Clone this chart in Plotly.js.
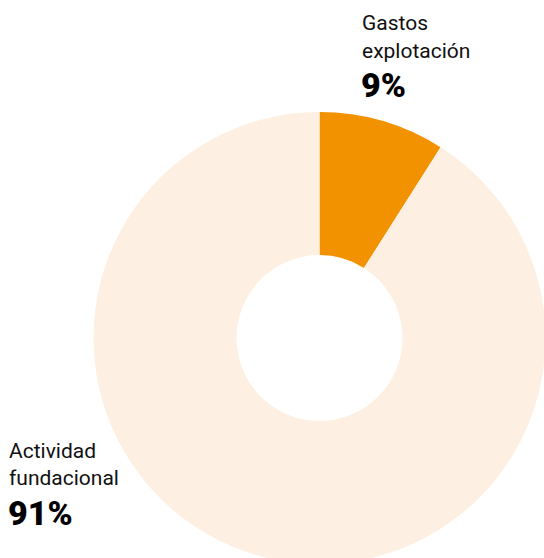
<!DOCTYPE html>
<html>
<head>
<meta charset="utf-8">
<script src="https://cdn.plot.ly/plotly-3.0.1.min.js"></script>
<style>
html,body{margin:0;padding:0;overflow:hidden;background:#fff;width:544px;height:558px;}
#chart{width:550px;height:570px;}
</style>
</head>
<body>
<div id="chart"></div>
<script>
var categories = ["Gastos explotación", "Actividad fundacional"];
var values = [9, 91];
var colors = ["#F39200", "#FDF0E2"];
var labelLines = [["Gastos", "explotación"], ["Actividad", "fundacional"]];
var pctLabels = ["9%", "91%"];

var W = 550, H = 570;
function px(x){ return x / W; }
function py(y){ return (H - y) / H; }

var cx = 319.5, cy = 338, R = 226;

var trace = {
  type: "pie",
  labels: categories,
  values: values,
  hole: 0.367,
  sort: false,
  direction: "clockwise",
  rotation: 0,
  textinfo: "none",
  hoverinfo: "label+percent",
  marker: {colors: colors, line: {width: 0}},
  domain: {x: [px(cx - R), px(cx + R)], y: [py(cy + R), py(cy - R)]},
  showlegend: false
};

var txtFont = {family: "Roboto, 'Noto Sans', sans-serif", size: 21, color: "#111"};
var pctFont = {family: "Roboto, 'Noto Sans', sans-serif", size: 34, color: "#000", weight: 900};

function ann(text, x, y, font){
  return {text: text, x: px(x), y: py(y), xref: "paper", yref: "paper",
          xanchor: "left", yanchor: "middle", showarrow: false, font: font, align: "left"};
}

var annotations = [
  ann(labelLines[0][0], 360, 23, txtFont),
  ann(labelLines[0][1], 360, 50.5, txtFont),
  ann(pctLabels[0], 359, 85, pctFont),
  ann(labelLines[1][0], 7, 450.5, txtFont),
  ann(labelLines[1][1], 7, 477.5, txtFont),
  ann(pctLabels[1], 6, 513, pctFont)
];

var layout = {
  width: W, height: H,
  margin: {l: 0, r: 0, t: 0, b: 0},
  paper_bgcolor: "#fff",
  plot_bgcolor: "#fff",
  annotations: annotations,
  showlegend: false
};

Plotly.newPlot("chart", [trace], layout, {displayModeBar: false, staticPlot: true});
</script>
</body>
</html>
